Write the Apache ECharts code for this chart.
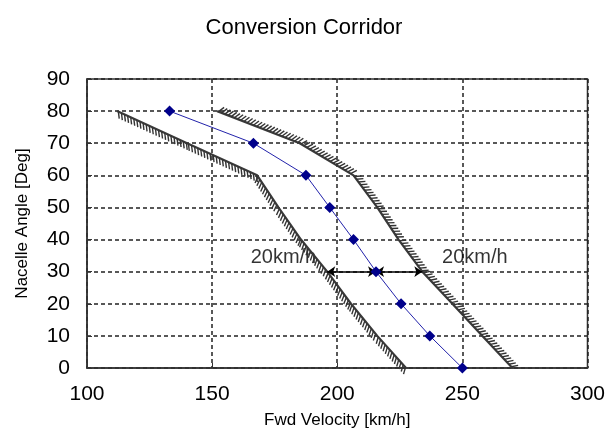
<!DOCTYPE html>
<html>
<head>
<meta charset="utf-8">
<script src="https://cdn.jsdelivr.net/npm/echarts@6/dist/echarts.min.js"></script>
<style>
  html, body { margin: 0; padding: 0; background: #ffffff; }
  #chart { width: 608px; height: 441px; }
</style>
</head>
<body>
<div id="chart"></div>
<script>
// Nacelle angle stations (deg)
const nacelleAngle = [80, 70, 60, 50, 40, 30, 20, 10, 0];
// Nominal conversion schedule: forward velocity (km/h) at each station
const scheduleVelocity = [133, 166.5, 187.5, 197, 206.5, 215.5, 225.5, 237, 250];
// Low-speed boundary of the corridor
const lowerBoundAngle = [80, 70, 60, 50, 40, 30, 20, 10, 0];
const lowerBoundVelocity = [112, 140, 168, 176.5, 185.5, 196, 205.5, 216, 227.5];
// High-speed boundary of the corridor
const upperBoundAngle = [80, 70, 60, 50, 40, 30, 20, 10, 0];
const upperBoundVelocity = [152, 185, 206.5, 216, 224.5, 234, 246, 258, 270];
// Speed margins marked at 30 deg
const marginAngle = 30;
const marginVelocity = [196, 215.5, 234];
const marginText = ['20km/h', '20km/h'];
const marginLabelVelocity = [178.5, 255];
const marginLabelAngle = [34.3, 34.3];
// Axis ranges
const xRange = { min: 100, max: 300, step: 50 };
const yRange = { min: 0, max: 90, step: 10 };

const FONT = 'Liberation Sans, Arial, sans-serif';

function pairs(xs, ys) {
  return xs.map((x, i) => [x, ys[i]]);
}

// Short slanted strokes along one side of a boundary polyline.
// side = +1 puts them on the upper/right side, -1 on the lower/left side.
function hatchSeries(vel, ang, side) {
  const segs = [];
  for (let i = 0; i < vel.length - 1; i++) {
    segs.push([vel[i], ang[i], vel[i + 1], ang[i + 1]]);
  }
  return {
    type: 'custom',
    coordinateSystem: 'cartesian2d',
    silent: true,
    z: 5,
    encode: { x: [0, 2], y: [1, 3] },
    data: segs,
    renderItem: function (params, api) {
      const p0 = api.coord([api.value(0), api.value(1)]);
      const p1 = api.coord([api.value(2), api.value(3)]);
      const dx = p1[0] - p0[0];
      const dy = p1[1] - p0[1];
      const len = Math.hypot(dx, dy);
      const ux = dx / len, uy = dy / len;
      const nx = side * uy, ny = -side * ux;
      const c = Math.cos(0.55), s = Math.sin(0.55);
      const tx = nx * c + ux * s, ty = ny * c + uy * s;
      const L = 7, step = 3.4;
      const children = [];
      for (let d = 1.5; d < len; d += step) {
        const x = p0[0] + ux * d, y = p0[1] + uy * d;
        children.push({
          type: 'line',
          shape: { x1: x, y1: y, x2: x + tx * L, y2: y + ty * L },
          style: { stroke: '#333333', lineWidth: 1.4 }
        });
      }
      return { type: 'group', children: children };
    }
  };
}

const chart = echarts.init(document.getElementById('chart'), null, { renderer: 'canvas' });

const option = {
  animation: false,
  backgroundColor: '#ffffff',
  title: {
    text: 'Conversion Corridor',
    left: 'center',
    top: 12,
    textStyle: { fontFamily: FONT, fontSize: 22, fontWeight: 'normal', color: '#000' }
  },
  grid: {
    left: 87, right: 18, top: 79, bottom: 73,
    show: true, borderColor: '#333', borderWidth: 1.5, backgroundColor: 'transparent'
  },
  xAxis: {
    type: 'value',
    min: xRange.min, max: xRange.max, interval: xRange.step,
    name: 'Fwd Velocity [km/h]',
    nameLocation: 'middle',
    nameGap: 44,
    nameTextStyle: { fontFamily: FONT, fontSize: 17, color: '#000' },
    axisLine: { lineStyle: { color: '#333', width: 1.5 } },
    axisTick: { inside: true, length: 5, lineStyle: { color: '#333' } },
    axisLabel: { fontFamily: FONT, fontSize: 21, color: '#000', margin: 16 },
    splitLine: { show: true, lineStyle: { type: [4, 3], color: '#222', width: 1.5 } }
  },
  yAxis: {
    type: 'value',
    min: yRange.min, max: yRange.max, interval: yRange.step,
    name: 'Nacelle Angle [Deg]',
    nameLocation: 'middle',
    nameGap: 56,
    nameTextStyle: { fontFamily: FONT, fontSize: 17, color: '#000' },
    axisLine: { lineStyle: { color: '#333', width: 1.5 } },
    axisTick: { inside: true, length: 5, lineStyle: { color: '#333' } },
    axisLabel: { fontFamily: FONT, fontSize: 21, color: '#000', margin: 17 },
    splitLine: { show: true, lineStyle: { type: [4, 3], color: '#222', width: 1.5 } }
  },
  series: [
    {
      name: 'margin labels',
      type: 'scatter',
      z: 1,
      symbolSize: 0,
      silent: true,
      data: marginLabelVelocity.map((v, i) => ({ value: [v, marginLabelAngle[i]], text: marginText[i] })),
      label: {
        show: true,
        position: 'inside',
        formatter: p => p.data.text,
        fontFamily: FONT, fontSize: 20, color: '#000'
      }
    },
    {
      name: 'low-speed boundary',
      type: 'line',
      z: 4,
      symbol: 'none',
      data: pairs(lowerBoundVelocity, lowerBoundAngle),
      lineStyle: { color: '#3a3a3a', width: 2.2 }
    },
    hatchSeries(lowerBoundVelocity, lowerBoundAngle, -1),
    {
      name: 'high-speed boundary',
      type: 'line',
      z: 4,
      symbol: 'none',
      data: pairs(upperBoundVelocity, upperBoundAngle),
      lineStyle: { color: '#3a3a3a', width: 2.2 }
    },
    hatchSeries(upperBoundVelocity, upperBoundAngle, 1),
    {
      name: 'margins',
      type: 'lines',
      coordinateSystem: 'cartesian2d',
      z: 6,
      symbol: ['arrow', 'arrow'],
      symbolSize: 8,
      lineStyle: { color: '#000', width: 1.5, opacity: 1 },
      data: [
        { coords: [[marginVelocity[0], marginAngle], [marginVelocity[1], marginAngle]] },
        { coords: [[marginVelocity[1], marginAngle], [marginVelocity[2], marginAngle]] }
      ]
    },
    {
      name: 'schedule',
      type: 'line',
      z: 7,
      symbol: 'diamond',
      symbolSize: 11,
      data: pairs(scheduleVelocity, nacelleAngle),
      lineStyle: { color: '#2222aa', width: 1 },
      itemStyle: { color: '#00008b' }
    }
  ]
};

chart.setOption(option);
</script>
</body>
</html>
